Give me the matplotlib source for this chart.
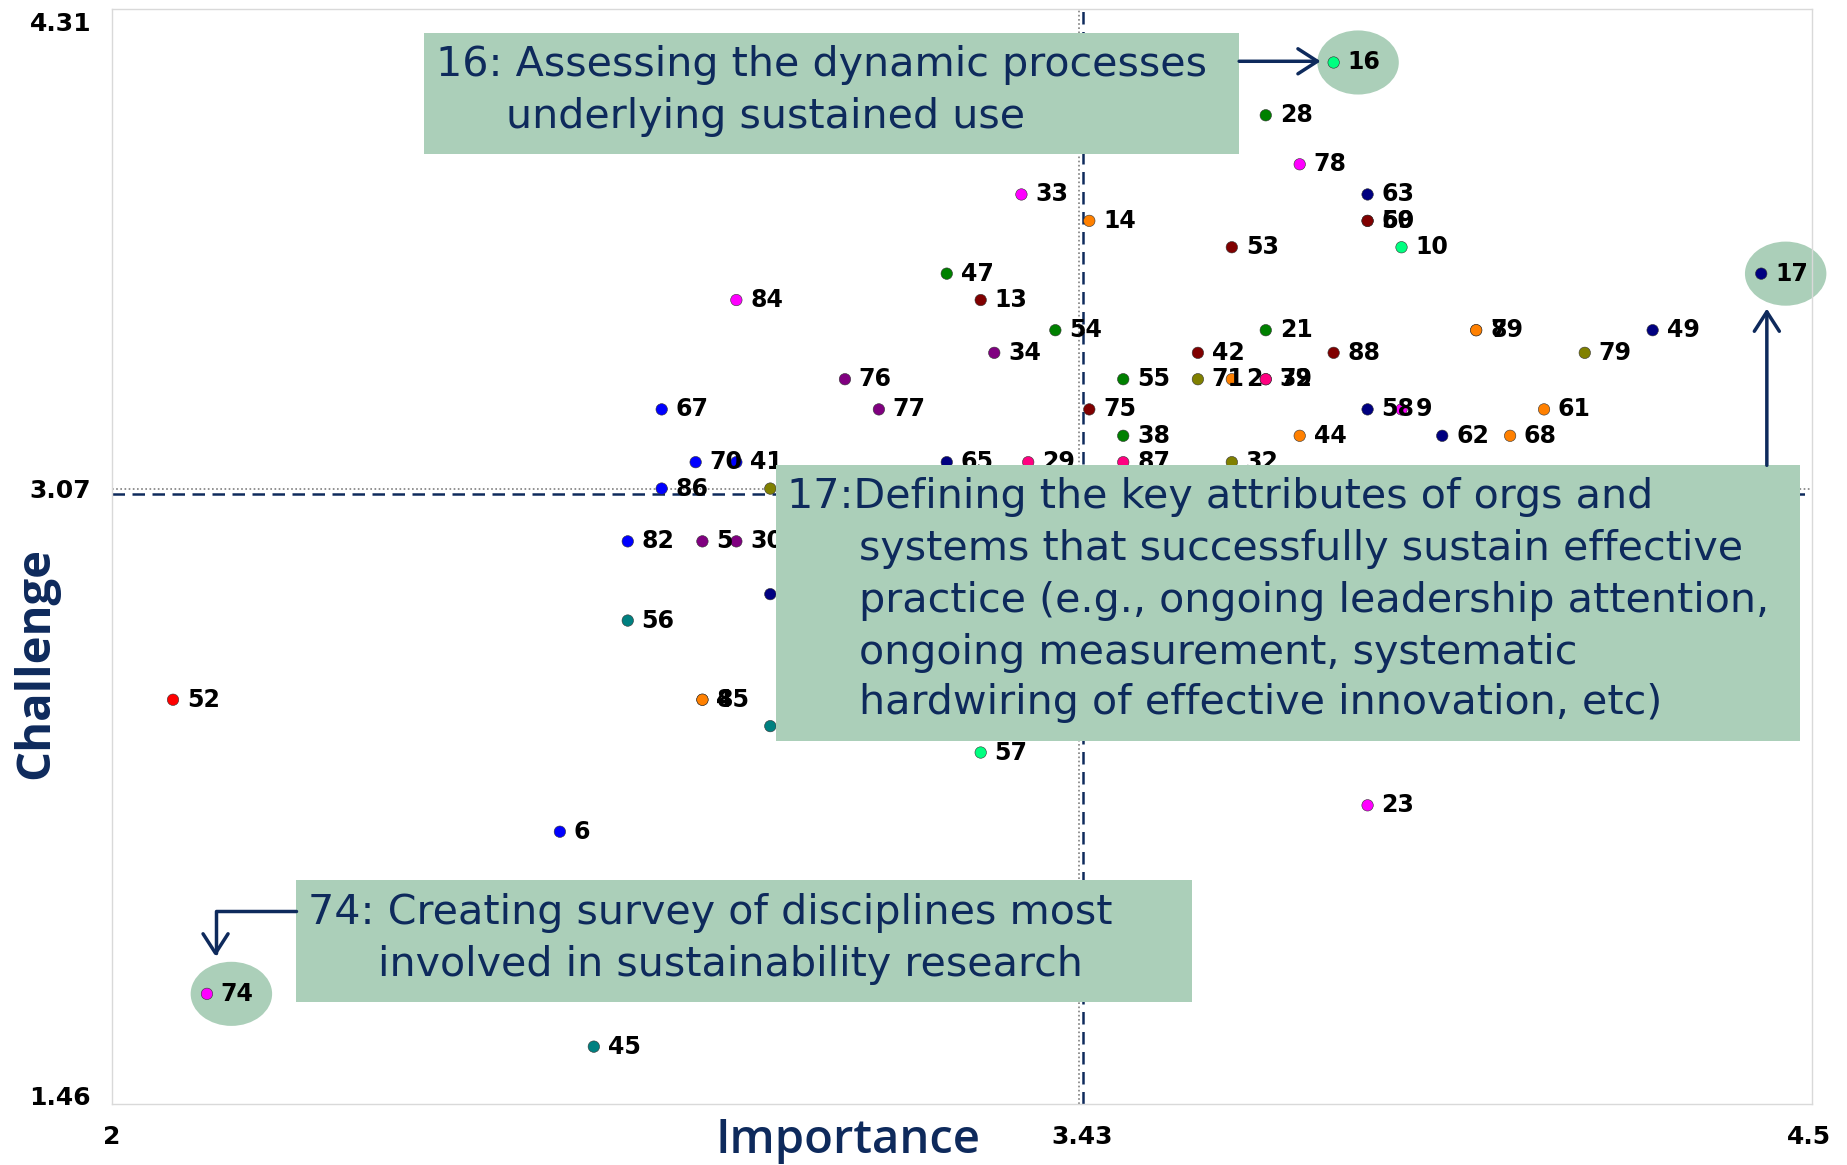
import matplotlib.pyplot as plt
from matplotlib.patches import Rectangle, Ellipse, FancyArrowPatch
from matplotlib.transforms import ScaledTranslation


# item numbers, mean importance (x) and mean challenge (y)
item_ids = ['16', '28', '78', '33', '63', '14', '59', '60', '53', '10',
            '47', '17', '84', '13', '54', '21', '7', '89', '49', '34',
            '42', '88', '79', '76', '55', '71', '2', '39', '72', '67',
            '77', '75', '58', '9', '61', '38', '44', '62', '68', '70',
            '41', '65', '29', '87', '32', '86', '', '82', '5', '30',
            '', '56', '52', '4', '85', '', '57', '23', '6', '74', '45']
importance = [3.80, 3.70, 3.75, 3.34, 3.85, 3.44, 3.85, 3.85, 3.65, 3.90,
              3.23, 4.43, 2.92, 3.28, 3.39, 3.70, 4.01, 4.01, 4.27, 3.30,
              3.60, 3.80, 4.17, 3.08, 3.49, 3.60, 3.65, 3.70, 3.70, 2.81,
              3.13, 3.44, 3.85, 3.90, 4.11, 3.49, 3.75, 3.96, 4.06, 2.86,
              2.92, 3.23, 3.35, 3.49, 3.65, 2.81, 2.97, 2.76, 2.87, 2.92,
              2.97, 2.76, 2.09, 2.87, 2.87, 2.97, 3.28, 3.85, 2.66, 2.14, 2.71]
challenge = [4.20, 4.06, 3.93, 3.85, 3.85, 3.78, 3.78, 3.78, 3.71, 3.71,
             3.64, 3.64, 3.57, 3.57, 3.49, 3.49, 3.49, 3.49, 3.49, 3.43,
             3.43, 3.43, 3.43, 3.36, 3.36, 3.36, 3.36, 3.36, 3.36, 3.28,
             3.28, 3.28, 3.28, 3.28, 3.28, 3.21, 3.21, 3.21, 3.21, 3.14,
             3.14, 3.14, 3.14, 3.14, 3.14, 3.07, 3.07, 2.93, 2.93, 2.93,
             2.79, 2.72, 2.51, 2.51, 2.51, 2.44, 2.37, 2.23, 2.16, 1.73, 1.59]
item_colors = ['#00FF80', '#008000', '#FF00FF', '#FF00FF', '#000080', '#FF8000', '#800000', '#800000', '#800000', '#00FF80',
               '#008000', '#000080', '#FF00FF', '#800000', '#008000', '#008000', '#FF8000', '#FF8000', '#000080', '#800080',
               '#800000', '#800000', '#808000', '#800080', '#008000', '#808000', '#FF8000', '#FF0080', '#FF0080', '#0000FF',
               '#800080', '#800000', '#000080', '#FF00FF', '#FF8000', '#008000', '#FF8000', '#000080', '#FF8000', '#0000FF',
               '#0000FF', '#000080', '#FF0080', '#FF0080', '#808000', '#0000FF', '#808000', '#0000FF', '#800080', '#800080',
               '#000080', '#008080', '#FF0000', '#FF8000', '#FF8000', '#008080', '#00FF80', '#FF00FF', '#0000FF', '#FF00FF', '#008080']

mean_importance = 3.43
mean_challenge = 3.07
x_ticks = [2, 3.43, 4.5]
y_ticks = [1.46, 3.07, 4.31]

highlighted = ['16', '17', '74']
callout_16 = ['16: Assessing the dynamic processes', 'underlying sustained use']
callout_17 = ['17:Defining the key attributes of orgs and',
              'systems that successfully sustain effective',
              'practice (e.g., ongoing leadership attention,',
              'ongoing measurement, systematic',
              'hardwiring of effective innovation, etc)']
callout_74 = ['74: Creating survey of disciplines most', 'involved in sustainability research']

NAVY = '#0E2A5C'
BOX = '#ABCFB9'
BOX_FONT = ['DejaVu Sans']
TITLE_FONT = ['Open Sans', 'DejaVu Sans']


def main():

    fig = plt.figure(figsize=(18.47, 11.65), dpi=100)
    ax = fig.add_axes([0.0606, 0.0524, 0.9206, 0.9396])

    ax.set_xlim(2.0087, 4.5052)
    ax.set_ylim(1.438, 4.341)

    # quadrant lines at the means (dotted grey + dashed navy, a few px apart)
    vdot = ax.axvline(mean_importance, color='#7F7F7F', lw=1.2, ls=(0, (1, 1.5)), zorder=1)
    vdot.set_transform(vdot.get_transform() + ScaledTranslation(-0.035, 0, fig.dpi_scale_trans))
    ax.axvline(mean_importance, color=NAVY, lw=1.8, ls=(0, (5, 3)), zorder=1)
    ax.axhline(mean_challenge, color='#7F7F7F', lw=1.2, ls=(0, (1, 1.5)), zorder=1)
    hdash = ax.axhline(mean_challenge, color=NAVY, lw=1.8, ls=(0, (5, 3)), zorder=1)
    hdash.set_transform(hdash.get_transform() + ScaledTranslation(0, -0.05, fig.dpi_scale_trans))

    # highlight ellipses behind the three called-out items
    for lab in highlighted:
        i = item_ids.index(lab)
        ax.add_patch(Ellipse((importance[i] + 0.036, challenge[i]), 0.12, 0.17,
                             facecolor=BOX, edgecolor='none', zorder=2, clip_on=False))

    ax.scatter(importance, challenge, s=68, c=item_colors, linewidths=0.4,
               edgecolors='#333333', zorder=3, clip_on=False)

    for lab, x, y in zip(item_ids, importance, challenge):
        ax.annotate(lab, (x, y), xytext=(10, 0), textcoords='offset points',
                    ha='left', va='center', fontsize=17, fontweight='bold',
                    color='black', zorder=4, annotation_clip=False)

    ax.set_xticks(x_ticks)
    ax.set_xticklabels(['2', '3.43', '4.5'])
    ax.set_yticks(y_ticks)
    ax.set_yticklabels(['1.46', '3.07', '4.31'])
    ax.tick_params(length=0, labelsize=18, pad=15)
    for t in ax.get_xticklabels() + ax.get_yticklabels():
        t.set_fontweight('bold')
        t.set_family(['Liberation Sans Narrow', 'DejaVu Sans'])

    for s in ax.spines.values():
        s.set_color('#D9D9D9')
        s.set_linewidth(1)

    fig.text(0.459, 0.021, 'Importance', ha='center', va='center', fontsize=34,
             color=NAVY, fontweight='semibold', family=TITLE_FONT)
    fig.text(0.0191, 0.4307, 'Challenge', ha='center', va='center', fontsize=34,
             color=NAVY, fontweight='bold', rotation=90, family=TITLE_FONT)

    # call-out boxes on top of the plot
    boxes = [
        (0.2296, 0.8675, 0.4413, 0.1042, callout_16, 0.236, 0.2742, [0.9444, 0.8999]),
        (0.4203, 0.3640, 0.5542, 0.2366, callout_17, 0.426, 0.4649,
         [0.5733, 0.5288, 0.4843, 0.4399, 0.3964]),
        (0.1601, 0.1395, 0.4853, 0.1052, callout_74, 0.1665, 0.2047, [0.2164, 0.1719]),
    ]
    for x0, y0, w, h, lines, x_first, x_rest, ys in boxes:
        fig.add_artist(Rectangle((x0, y0), w, h, transform=fig.transFigure,
                                 facecolor=BOX, edgecolor='none', zorder=5))
        for k, (line, y) in enumerate(zip(lines, ys)):
            fig.text(x_first if k == 0 else x_rest, y, line, ha='left', va='center',
                     fontsize=29.7, color=NAVY, family=BOX_FONT, zorder=6)

    arrow_kw = dict(transform=fig.transFigure, color=NAVY, lw=2.5, zorder=6,
                    arrowstyle='->,head_length=0.7,head_width=0.45', mutation_scale=20,
                    shrinkA=0, shrinkB=0)
    fig.add_artist(FancyArrowPatch((0.6709, 0.9474), (0.7150, 0.9474), **arrow_kw))
    fig.add_artist(FancyArrowPatch((0.9566, 0.6006), (0.9566, 0.7351), **arrow_kw))
    fig.add_artist(FancyArrowPatch((0.1601, 0.2184), (0.1167, 0.1790),
                                   connectionstyle='angle,angleA=0,angleB=90,rad=0', **arrow_kw))

    fig.savefig('out.png', dpi=100)


if __name__ == "__main__":
    main()
